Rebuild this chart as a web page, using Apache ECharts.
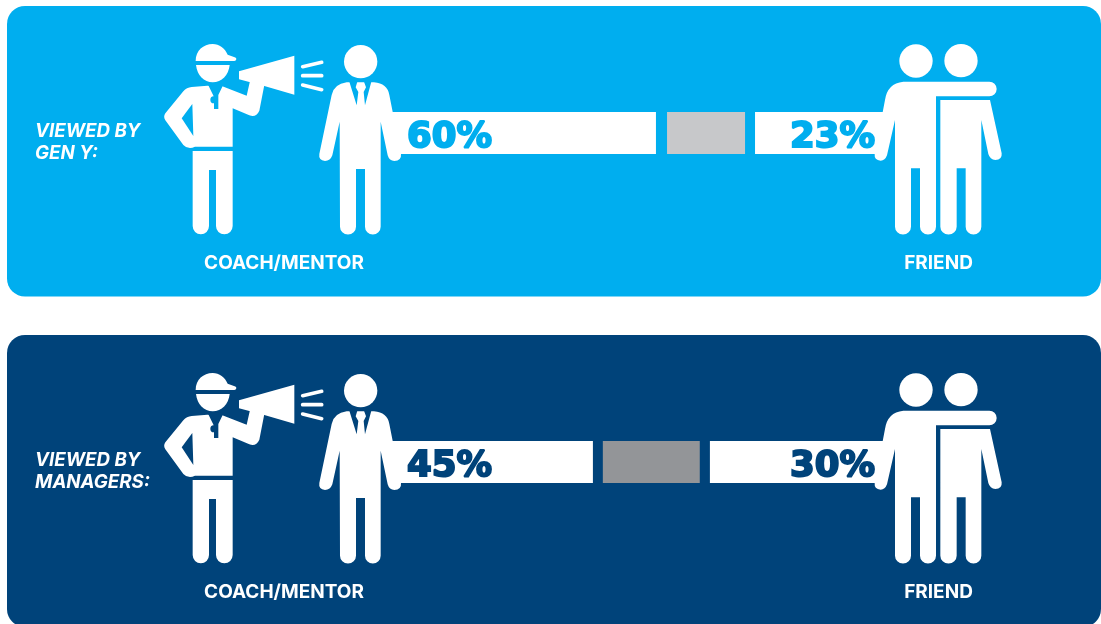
<!DOCTYPE html>
<html>
<head>
<meta charset="utf-8">
<title>Coach or friend</title>
<style>html,body{margin:0;padding:0;background:#fff}#chart{width:1101px;height:624px}</style>
<script src="https://cdn.jsdelivr.net/npm/echarts@6/dist/echarts.min.js"></script>
</head>
<body>
<div id="chart"></div>
<script>
// Survey shares per audience
const audiences = ['VIEWED BY\nGEN Y:', 'VIEWED BY\nMANAGERS:'];
const coachShare = [60, 45];
const friendShare = [23, 30];
const middleShare = [17.6, 21.5];
const separatorShare = [2.5, 2.2];
const leftLabel = 'COACH/MENTOR';
const rightLabel = 'FRIEND';

// Per-panel look and axis spans
const panelColors = ['#00AEEF', '#00437A'];
const middleColors = ['#C7C8CA', '#939598'];
const coachAxisMax = [111.9, 110];
const friendAxisMax = [87.1, 84.5];
const panelOffset = 329;

// Pictogram outlines, in a 3x drawing space
const coachPaths = [
  'M137,93 C137,62 160,42 188,42 C208,42 225,55 233,74 L254,82 Q260,84 259,88 Q258,93 253,93 Z',
  'M138,105 L239,105 C236,135 215,157 188,157 C162,157 141,135 138,105 Z',
  'M267,124 L433,77 L433,194 L343,168 L267,148 Z',
  'M125,171 Q110,172 100,184 L46,250 Q39,260 46,271 L100,345 Q108,354 120,354 Q127,354 135,350 L248,350 L248,235 L298,256 Q318,264 328,242 L343,165 L300,153 L290,197 L215,168 L172,167 Z',
  'M128,363 L248,363 L248,588 A25,25 0 0 1 198,588 L198,420 L177,420 L177,588 A24.5,25 0 0 1 128,588 Z'
];
const coachCutouts = [
  'M127,222 L95,265 L130,318 Z',
  'M172,160 L222,160 L205,195 L205,237 L192,237 L192,220 A10,10 0 1 1 191,199 Z'
];
const soundLines = ['M458,110 L515,97', 'M458,137 L515,137', 'M458,165 L515,179'];
const mentorPaths = [
  'M590,157 L672,157 Q712,160 718,195 L753,372 Q755,392 733,393 Q718,393 713,376 L692,275 L692,590 A23.5,23.5 0 0 1 645,590 L645,417 L618,417 L618,590 A24,23.5 0 0 1 570,590 L569,275 L547,376 Q541,393 525,393 Q505,391 508,372 L545,195 Q552,162 590,157 Z'
];
const mentorCutouts = [
  'M598,155 L622,155 L617,172 L625,186 L620,226 Z',
  'M664,155 L642,155 L648,172 L641,186 L645,226 Z'
];
const friendsPaths = [
  'M400,155 L658,155 A22,22 0 0 1 658,199 L498,199 L498,590 A24,23.5 0 0 1 450,590 L450,415 L423,415 L423,590 A24,23.5 0 0 1 375,590 L375,270 L351,376 Q345,392 332,392 Q312,390 314,372 L345,210 Q352,160 400,155 Z',
  'M511,210 L660,210 L695,370 Q697,390 676,390 Q660,389 655,372 L634,270 L634,590 A23.5,23.5 0 0 1 587,590 L587,415 L560,415 L560,590 A24.5,23.5 0 0 1 511,590 Z'
];

// SVG outlines become named shapes so the graphic component can place them
const registered = new Map();
function rawPath(d, style) {
  if (!registered.has(d)) {
    const name = 'pictogram' + registered.size;
    echarts.graphic.registerShape(name, echarts.graphic.extendPath(d, {}));
    registered.set(d, name);
  }
  return { type: registered.get(d), style };
}

function circle(cx, cy, r) {
  return { type: 'circle', shape: { cx, cy, r }, style: { fill: '#fff' } };
}

function figures(i) {
  const dy = i * panelOffset;
  const bg = panelColors[i];
  const white = { fill: '#fff' };
  return [
    {
      type: 'group', x: 150, y: 30 + dy, scaleX: 1 / 3, scaleY: 1 / 3, z: 1,
      children: [
        ...coachPaths.map(d => rawPath(d, white)),
        ...coachCutouts.map(d => rawPath(d, { fill: bg })),
        ...soundLines.map(d => rawPath(d, { fill: 'none', stroke: '#fff', lineWidth: 11, lineCap: 'round' })),
        circle(632, 95, 50),
        ...mentorPaths.map(d => rawPath(d, white)),
        ...mentorCutouts.map(d => rawPath(d, { fill: bg }))
      ]
    },
    {
      type: 'group', x: 770, y: 30 + dy, scaleX: 1 / 3, scaleY: 1 / 3, z: 1,
      children: [
        circle(438, 93, 50),
        circle(573, 92, 50),
        ...friendsPaths.map(d => rawPath(d, white))
      ]
    }
  ];
}

function captions(i) {
  const dy = i * panelOffset;
  const common = { fill: '#fff', fontFamily: 'Inter', fontWeight: 700, fontSize: 19, textVerticalAlign: 'middle', textAlign: 'center' };
  return [
    { type: 'text', x: 35, y: 120.5 + dy, z: 3, style: { text: audiences[i], fill: '#fff', fontFamily: 'Inter', fontStyle: 'italic', fontWeight: 700, fontSize: 18.7, lineHeight: 22, textAlign: 'left' } },
    { type: 'text', x: 284, y: 263 + dy, z: 3, style: { ...common, text: leftLabel } },
    { type: 'text', x: 938.5, y: 263 + dy, z: 3, style: { ...common, text: rightLabel } }
  ];
}

function panelSeries(i) {
  const xLeft = i * 2;
  const xRight = i * 2 + 1;
  const shared = { type: 'bar', yAxisIndex: i, barWidth: '100%', barGap: '-100%', silent: true };
  const valueLabel = (position, distance) => ({
    show: true, position, distance, offset: [0, 5], formatter: '{c}%',
    color: panelColors[i], textBorderColor: panelColors[i], textBorderWidth: 2,
    fontFamily: 'DejaVu Sans', fontWeight: 'bold', fontSize: 35.5
  });
  return [
    { ...shared, name: 'Coach/mentor', xAxisIndex: xLeft, stack: 'left' + i, data: [coachShare[i]],
      itemStyle: { color: '#fff' }, label: valueLabel('insideLeft', 17) },
    { ...shared, name: 'Separator', xAxisIndex: xLeft, stack: 'left' + i, data: [separatorShare[i]],
      itemStyle: { color: 'transparent' } },
    { ...shared, name: 'Middle', xAxisIndex: xLeft, stack: 'left' + i, data: [middleShare[i]],
      itemStyle: { color: middleColors[i] } },
    { ...shared, name: 'Friend', xAxisIndex: xRight, data: [friendShare[i]],
      itemStyle: { color: '#fff' }, label: valueLabel('insideRight', 11) }
  ];
}

const panels = [
  { type: 'rect', z: 0, shape: { x: 7, y: 6, width: 1094, height: 290.5, r: 18 }, style: { fill: panelColors[0] } },
  { type: 'rect', z: 0, shape: { x: 7, y: 335, width: 1094, height: 292, r: 18 }, style: { fill: panelColors[1] } }
];

const chart = echarts.init(document.getElementById('chart'), null, { renderer: 'canvas' });
chart.setOption({
  animation: false,
  backgroundColor: '#fff',
  grid: [
    { left: 390, width: 496, top: 112, height: 42 },
    { left: 390, width: 496, top: 441, height: 42 }
  ],
  xAxis: [
    { type: 'value', gridIndex: 0, show: false, min: 0, max: coachAxisMax[0] },
    { type: 'value', gridIndex: 0, show: false, min: 0, max: friendAxisMax[0], inverse: true },
    { type: 'value', gridIndex: 1, show: false, min: 0, max: coachAxisMax[1] },
    { type: 'value', gridIndex: 1, show: false, min: 0, max: friendAxisMax[1], inverse: true }
  ],
  yAxis: [
    { type: 'category', gridIndex: 0, show: false, data: [audiences[0]] },
    { type: 'category', gridIndex: 1, show: false, data: [audiences[1]] }
  ],
  graphic: { elements: [...panels, ...figures(0), ...figures(1), ...captions(0), ...captions(1)] },
  series: [...panelSeries(0), ...panelSeries(1)]
});
</script>
</body>
</html>
